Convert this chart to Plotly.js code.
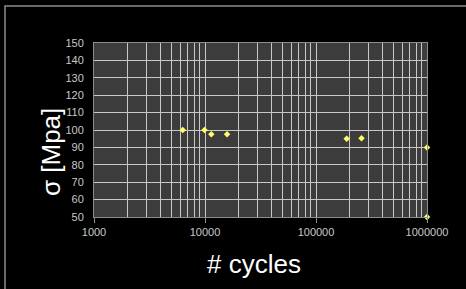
<!DOCTYPE html>
<html>
<head>
<meta charset="utf-8">
<script src="https://cdn.plot.ly/plotly-3.0.1.min.js"></script>
<style>
html,body{margin:0;padding:0;background:#000;}
#chart{width:466px;height:289px;}
.main-svg{opacity:0.999;}
</style>
</head>
<body>
<div id="chart"></div>
<script>
var cycles = [6300, 9900, 11400, 15800, 189000, 257000, 1000000, 1000000];
var stress = [100, 100, 97.5, 97.5, 95, 95.3, 90, 50];
var xTickVals = [1000, 10000, 100000, 1000000];
var xTickText = ['1000', '10000', '100000', '1000000'];
var yTickVals = [50, 60, 70, 80, 90, 100, 110, 120, 130, 140, 150];
var xTitle = '# cycles';
var yTitle = 'σ [Mpa]';

var L = 94, R = 466 - 427, T = 43, B = 289 - 217;
var pw = 466 - L - R, ph = 289 - T - B;
function px(x) { return (x - L) / pw; }
function py(y) { return (T + ph - y) / ph; }

var trace = {
  x: cycles, y: stress, type: 'scatter', mode: 'markers',
  marker: {symbol: 'diamond', size: 5, color: '#ffff66', line: {width: 0}},
  cliponaxis: false, hoverinfo: 'none'
};

var layout = {
  width: 466, height: 289,
  margin: {l: L, r: R, t: T, b: B, pad: 0},
  paper_bgcolor: '#000000',
  plot_bgcolor: '#3c3c3c',
  showlegend: false,
  font: {family: 'Arial, Liberation Sans, sans-serif', color: '#c8c8c8', size: 11},
  xaxis: {
    type: 'log', range: [3, 6],
    tickvals: xTickVals, ticktext: xTickText,
    ticks: 'outside', ticklen: 5, tickcolor: '#909090', tickwidth: 1,
    showgrid: true, gridcolor: '#c8c8c8', gridwidth: 1,
    minor: {dtick: 'D1', showgrid: true, gridcolor: '#c8c8c8', gridwidth: 1, ticks: ''},
    showline: true, linecolor: '#8c8c8c', linewidth: 1, mirror: true,
    zeroline: false,
    tickfont: {size: 11, color: '#c8c8c8'}
  },
  yaxis: {
    range: [50, 150], tickvals: yTickVals,
    ticks: 'outside', ticklen: 7, tickcolor: 'rgba(0,0,0,0)',
    showgrid: true, gridcolor: '#c8c8c8', gridwidth: 1,
    showline: true, linecolor: '#8c8c8c', linewidth: 1, mirror: true,
    zeroline: false,
    tickfont: {size: 11, color: '#c8c8c8'}
  },
  annotations: [
    {text: xTitle, xref: 'paper', yref: 'paper', x: px(254), y: py(264),
     xanchor: 'center', yanchor: 'middle', showarrow: false,
     font: {size: 26, color: '#ffffff'}},
    {text: yTitle, xref: 'paper', yref: 'paper', x: px(51), y: py(152),
     xanchor: 'center', yanchor: 'middle', showarrow: false, textangle: -90,
     font: {size: 26, color: '#ffffff'}}
  ],
  shapes: [{
    type: 'rect', xref: 'paper', yref: 'paper',
    x0: px(5), x1: px(480), y0: py(310), y1: py(6),
    line: {color: '#8c8c8c', width: 1.5}, layer: 'below'
  }]
};

Plotly.newPlot('chart', [trace], layout, {staticPlot: true, displayModeBar: false});
</script>
</body>
</html>
